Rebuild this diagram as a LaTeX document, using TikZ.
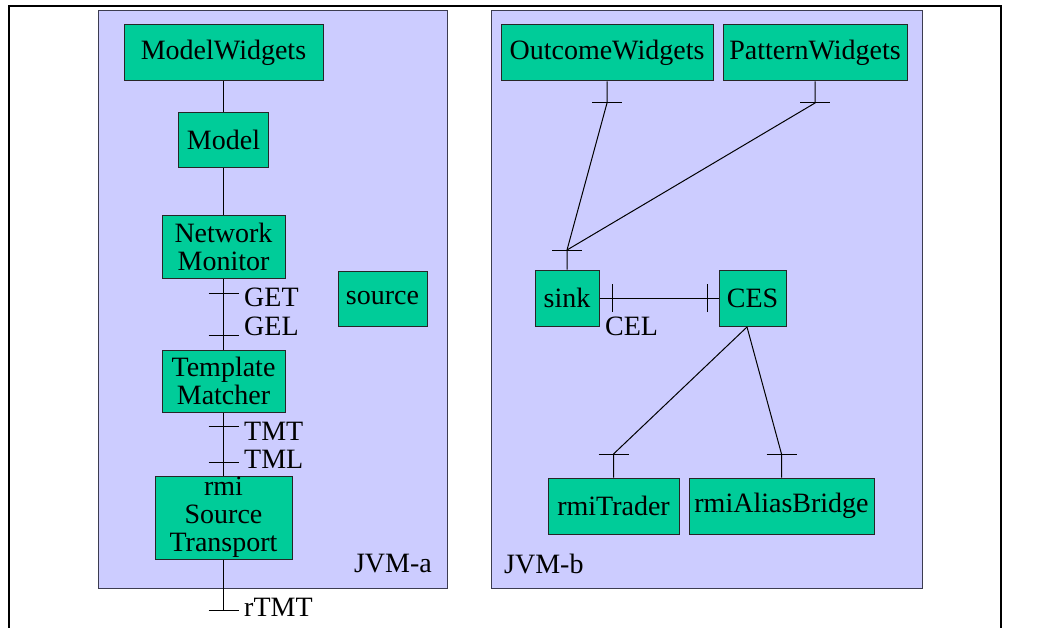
\documentclass[tikz,border=0pt]{standalone}
\usepackage{fontspec}
\setmainfont{Liberation Serif}
\usetikzlibrary{positioning}

\definecolor{jvmfill}{HTML}{CCCCFF}
\definecolor{jvmline}{HTML}{3C3C50}
\definecolor{compfill}{HTML}{00CC99}

\tikzset{comp/.style={draw=black!85,fill=compfill,line width=1pt,inner sep=0pt,
           minimum height=56,align=center,font=\fontsize{28}{28}\selectfont},
         jvm/.style={draw=jvmline,fill=jvmfill,line width=1pt},
         lbl/.style={inner sep=0pt,font=\fontsize{28}{28}\selectfont},
         conn/.style={draw,line width=1pt}}

\newcommand{\htick}[1]{\draw[conn] ([xshift=-15pt]#1) -- ([xshift=15pt]#1);}
\newcommand{\vtick}[1]{\draw[conn] ([yshift=-14pt]#1) -- ([yshift=14pt]#1);}

\begin{document}
\begin{tikzpicture}[x=1pt,y=-1pt]
\useasboundingbox (0,0) rectangle (1064,628);
\draw[line width=2pt] (9,628) -- (9,6) -- (1001,6) -- (1001,628);

% the two virtual machines
\draw[jvm] (98,11) rectangle (447,588);
\draw[jvm] (491,11) rectangle (922,588);
\node[lbl,anchor=east] (jvma) at (432,564) {JVM-a};
\node[lbl,anchor=west] (jvmb) at (504,564) {JVM-b};

% JVM-a
\node[comp,minimum width=199] (mw) at (223.5,53) {ModelWidgets};
\node[comp,minimum width=90,minimum height=55] (model) at (223.5,140) {Model};
\node[comp,minimum width=123,minimum height=62] (nm) at (223.5,247) {Network\\Monitor};
\node[comp,minimum width=89,minimum height=55] (src) at (382.5,298.5) {source};
\node[comp,minimum width=123,minimum height=62] (tm) at (223.5,381) {Template\\Matcher};
\node[comp,minimum width=137,minimum height=83] (rst) at (223.5,517.5) {rmi\\Source\\Transport};

\coordinate (get) at (223.5,293);
\coordinate (gel) at (223.5,335);
\coordinate (tmt) at (223.5,426);
\coordinate (tml) at (223.5,462);
\coordinate (rtmt) at (223.5,610);

\draw[conn] (mw) -- (model);
\draw[conn] (model) -- (nm);
\draw[conn] (nm) -- (tm);
\draw[conn] (tm) -- (rst);
\draw[conn] (rst) -- (rtmt);
\htick{get} \htick{gel} \htick{tmt} \htick{tml} \htick{rtmt}

\node[lbl,anchor=west] (getlbl) at (244,297) {GET};
\node[lbl,anchor=west] (gellbl) at (244,326) {GEL};
\node[lbl,anchor=west] (tmtlbl) at (244,431) {TMT};
\node[lbl,anchor=west] (tmllbl) at (244,459) {TML};
\node[lbl,anchor=west] (rtmtlbl) at (244,607.5) {rTMT};

% JVM-b
\node[comp,minimum width=212] (ow) at (607,53) {OutcomeWidgets};
\node[comp,minimum width=184] (pw) at (815,53) {PatternWidgets};
\node[comp,minimum width=64] (sink) at (567,298) {sink};
\node[comp,minimum width=67] (ces) at (752.5,298) {CES};
\node[comp,minimum width=131] (rtr) at (613.5,506) {rmiTrader};
\node[comp,minimum width=185] (rab) at (781.5,506) {rmiAliasBridge};

\coordinate (owt) at (607,103);
\coordinate (pwt) at (815,103);
\coordinate (skt) at (567,250);
\coordinate (cesb) at (747,327);
\coordinate (trt) at (613.5,454);
\coordinate (abt) at (781.5,454);
\coordinate (celt) at (612,298);
\coordinate (cest) at (707,298);

\draw[conn] (ow) -- (owt) -- (skt) -- (sink);
\draw[conn] (pw) -- (pwt) -- (skt);
\draw[conn] (sink) -- (ces);
\draw[conn] (cesb) -- (trt) -- (rtr);
\draw[conn] (cesb) -- (abt) -- (rab);
\htick{owt} \htick{pwt} \htick{skt} \htick{trt} \htick{abt}
\vtick{celt} \vtick{cest}

\node[lbl,anchor=west] (cellbl) at (605,326) {CEL};
\end{tikzpicture}
\end{document}
